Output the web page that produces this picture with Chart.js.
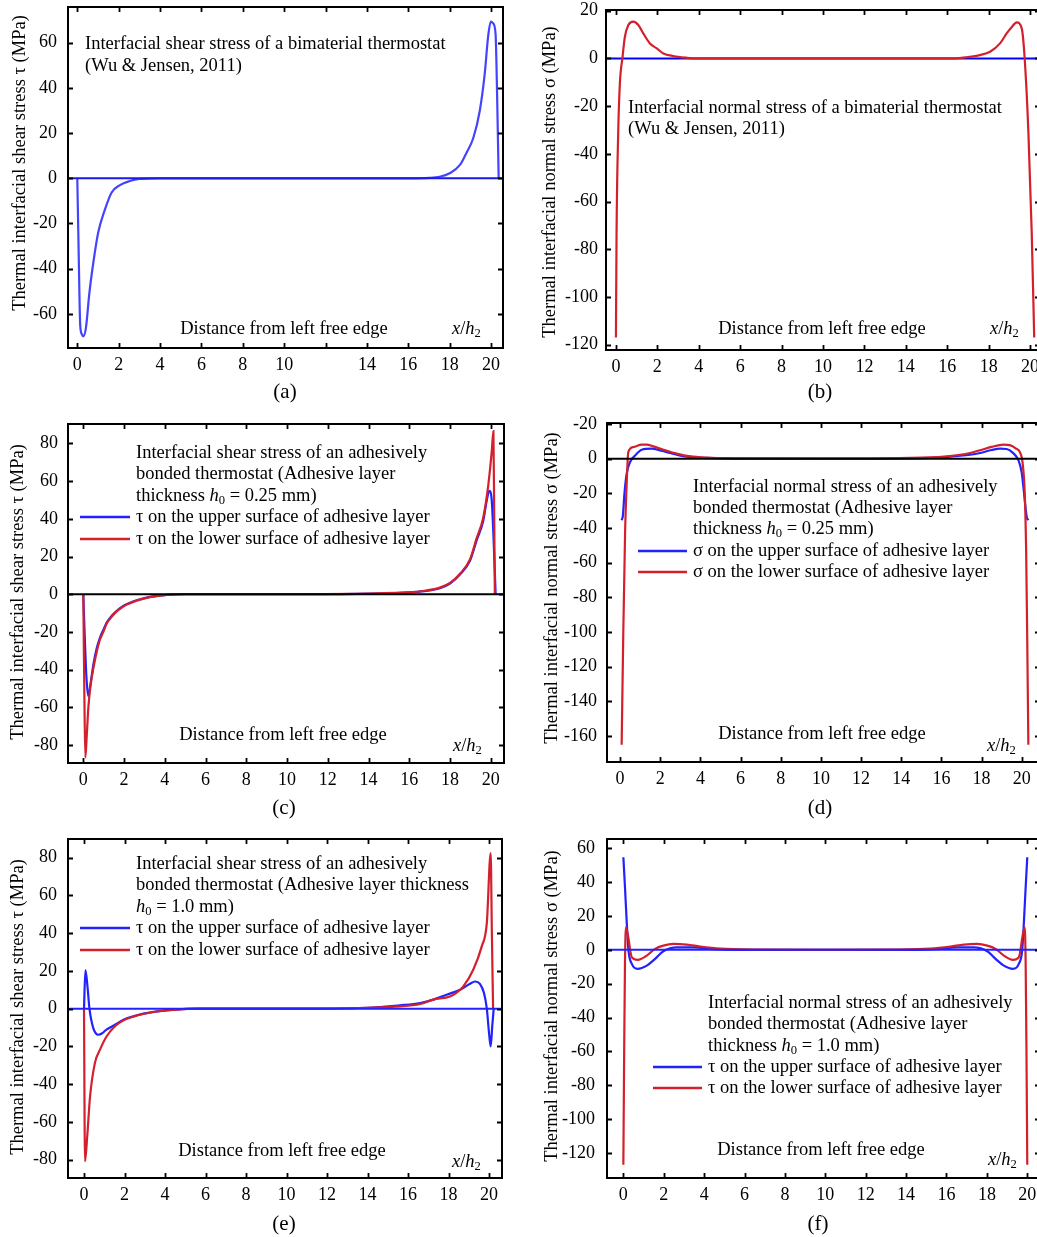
<!DOCTYPE html>
<html>
<head>
<meta charset="utf-8">
<script src="https://cdn.jsdelivr.net/npm/chart.js@4.4.1/dist/chart.umd.min.js"></script>
<style>
  html, body { margin: 0; padding: 0; background: #fff; overflow: hidden; width: 1037px; height: 1237px; position: relative; }
  canvas { position: absolute; }
</style>
</head>
<body>
<canvas id="chart-a"></canvas>
<canvas id="chart-b"></canvas>
<canvas id="chart-c"></canvas>
<canvas id="chart-d"></canvas>
<canvas id="chart-e"></canvas>
<canvas id="chart-f"></canvas>
<script>
// ---- tick values / labels ----
const xTicks = [0, 2, 4, 6, 8, 10, 12, 14, 16, 18, 20];
const xTickLabels = ["0", "2", "4", "6", "8", "10", "12", "14", "16", "18", "20"];
const aXTickLabels = ["0", "2", "4", "6", "8", "10", "", "14", "16", "18", "20"];
const aYTicks = [-60, -40, -20, 0, 20, 40, 60];
const bYTicks = [-120, -100, -80, -60, -40, -20, 0, 20];
const cYTicks = [-80, -60, -40, -20, 0, 20, 40, 60, 80];
const dYTicks = [-160, -140, -120, -100, -80, -60, -40, -20, 0, 20];
const dYTickLabels = ["-160", "-140", "-120", "-100", "-80", "-60", "-40", "-20", "0", "-20"];
const eYTicks = [-80, -60, -40, -20, 0, 20, 40, 60, 80];
const fYTicks = [-120, -100, -80, -60, -40, -20, 0, 20, 40, 60];

// ---- (a) shear stress, bimaterial thermostat ----
const aX = [0, 0.07, 0.14, 0.22, 0.29, 0.42, 0.58, 0.77, 1.01, 1.33, 1.66, 2.06, 2.54, 3.0, 4, 10, 16, 17, 17.52, 18.0, 18.5, 18.8, 19.14, 19.46, 19.7, 19.86, 19.99, 20.1, 20.22, 20.3, 20.37];
const aTau = [0, -35, -65, -69, -70, -66, -51, -37.6, -24, -14, -6.3, -3, -1.2, -0.3, 0, 0, 0, 0.2, 0.7, 2.2, 5.9, 11, 17.7, 30, 46.5, 62.7, 69.3, 68.6, 64, 34.7, 0];

// ---- (b) normal stress, bimaterial thermostat ----
const bX = [0, 0.03, 0.11, 0.19, 0.32, 0.43, 0.6, 0.84, 1.08, 1.32, 1.64, 1.97, 2.29, 2.77, 3.4, 3.9, 10, 16.3, 16.94, 17.58, 18.07, 18.55, 18.87, 19.1, 19.36, 19.6, 19.74, 19.92, 20.08, 20.2];
const bSigma = [-117, -73, -31, -10.5, 0.7, 9, 14, 15.4, 14, 10.5, 6.3, 4.2, 2.1, 1, 0.3, 0, 0, 0, 0.5, 1.4, 2.8, 6.3, 10.5, 13, 15.1, 12.5, 0, -31, -73, -117];

// ---- (c) shear stress, h0 = 0.25 mm ----
const cUpperX = [0, 0.08, 0.16, 0.25, 0.35, 0.5, 0.65, 0.82, 1.0, 1.15, 1.35, 1.55, 1.96, 2.3, 2.62, 3.27, 4.1, 5, 10, 15.87, 16.85, 17.5, 18.0, 18.5, 18.98, 19.3, 19.63, 19.8, 19.93, 20.05, 20.13, 20.24];
const cUpperTau = [0, -25, -45, -54, -48, -37, -29, -23, -18.5, -15, -12, -9.7, -6.2, -4.5, -3.2, -1.4, -0.3, 0, 0, 0.9, 1.8, 3.2, 5.7, 10.6, 17.7, 28.3, 38.9, 49.5, 54.8, 49.5, 31.8, 0];
const cLowerX = [0, 0.05, 0.1, 0.17, 0.25, 0.35, 0.5, 0.65, 0.82, 1.0, 1.15, 1.35, 1.55, 1.96, 2.3, 2.62, 3.27, 4.1, 5, 10, 15.87, 16.85, 17.5, 18.0, 18.5, 18.98, 19.3, 19.63, 19.88, 20.05, 20.13, 20.17, 20.2];
const cLowerTau = [0, -50, -86.6, -75, -60, -49, -39, -31, -24, -19.5, -15.5, -12.5, -10, -6.5, -4.7, -3.4, -1.5, -0.3, 0, 0, 1, 2, 3.5, 6, 11, 18.5, 29.5, 40.6, 58, 76, 86.6, 40, 0];

// ---- (d) normal stress, h0 = 0.25 mm ----
const dUpperX = [0.08, 0.14, 0.22, 0.33, 0.5, 0.75, 1.08, 1.58, 2.0, 2.5, 3.15, 4.0, 5.3, 6.6, 10, 15.5, 16.93, 17.43, 17.93, 18.5, 18.92, 19.25, 19.55, 19.84, 20.0, 20.08, 20.25, 20.33];
const dUpperSigma = [-35.5, -33, -20, -8.6, -1.9, 1.9, 5.2, 5.8, 4.8, 3.3, 1.5, 0.6, 0.2, 0, 0, 0.5, 1.7, 2.3, 3.3, 5, 5.8, 5.6, 3.5, -1, -8, -16, -33.6, -35.5];
const dLowerX = [0.08, 0.16, 0.25, 0.33, 0.41, 0.66, 1.08, 1.33, 1.66, 2.16, 2.82, 3.5, 4.3, 5.8, 10, 15.5, 16.93, 17.43, 17.93, 18.5, 19.09, 19.4, 19.7, 19.92, 20.05, 20.15, 20.22, 20.28, 20.33];
const dLowerSigma = [-165, -101, -43, -14.4, 3.8, 6.7, 8.1, 8.1, 7.1, 5.2, 2.9, 1.3, 0.6, 0.2, 0, 0.8, 2.3, 3.3, 4.9, 6.8, 8.1, 7.8, 6, 3.5, -3, -20, -53, -110, -165];

// ---- (e) shear stress, h0 = 1.0 mm ----
const eUpperX = [0, 0.07, 0.17, 0.27, 0.45, 0.71, 0.9, 1.11, 1.53, 1.95, 2.44, 2.93, 3.6, 4.4, 5.7, 10, 14, 15.6, 16.6, 17.25, 17.9, 18.57, 19.06, 19.31, 19.55, 19.75, 19.89, 20.0, 20.08, 20.16, 20.23];
const eUpperTau = [0, 20.5, 12, 0, -10, -13.8, -13, -11.1, -8.5, -5.8, -4, -2.6, -1.4, -0.5, 0, 0, 0.5, 1.8, 3, 4.8, 7.4, 10, 13.2, 14.4, 13.2, 8.3, 0, -12.9, -20, -9, 0];
const eLowerX = [0, 0.05, 0.16, 0.3, 0.54, 0.79, 1.12, 1.53, 1.95, 2.44, 2.93, 3.6, 4.4, 5.7, 10, 14, 15.6, 16.6, 17.25, 18.07, 18.4, 18.73, 19.22, 19.64, 19.89, 20.08, 20.14, 20.2];
const eLowerTau = [0, -80.8, -67.5, -46.4, -28.7, -21.7, -14.6, -9.3, -6.2, -4.2, -2.8, -1.5, -0.6, 0, 0, 0.5, 1.2, 2.5, 4.8, 6.5, 8.5, 11.8, 20.6, 33, 45.3, 82.4, 40, 0];

// ---- (f) normal stress, h0 = 1.0 mm ----
const fUpperX = [0, 0.08, 0.16, 0.25, 0.42, 0.71, 1.16, 1.57, 1.98, 2.64, 3.47, 4.46, 5.6, 10, 14.4, 15.54, 16.53, 17.36, 18.02, 18.43, 18.84, 19.29, 19.58, 19.75, 19.84, 19.92, 20];
const fUpperSigma = [54.7, 37, 18, 0, -8.3, -11.2, -9.3, -5.3, -0.8, 1.5, 1.5, 0.4, 0, 0, 0, 0.4, 1.5, 1.5, -0.8, -5.3, -9.3, -11.2, -8.3, 0, 18, 37, 54.7];
const fLowerX = [0, 0.04, 0.08, 0.13, 0.42, 0.71, 1.16, 1.57, 1.98, 2.48, 3.14, 3.8, 4.8, 6.4, 10, 13.6, 15.2, 16.2, 16.86, 17.52, 18.02, 18.43, 18.84, 19.29, 19.58, 19.87, 19.92, 19.96, 20];
const fLowerSigma = [-127, -60, -8, 13.3, -4.4, -5.9, -3.4, 0.6, 2.5, 3.5, 3.1, 2, 0.8, 0.2, 0, 0.2, 0.8, 2, 3.1, 3.5, 2.5, 0.6, -3.4, -5.9, -4.4, 13.3, -8, -60, -127];

// ---- styling ----
const SERIF = '"Liberation Serif", "Times New Roman", serif';
const BLUE = "#2222ff";
const BLUE_A = "#4444ff";
const BLUE_ZERO = "#1a1ae8";
const RED = "#d4202c";
const TICK_LEN = 5;

const SHEAR_TITLE = "Thermal interfacial shear stress \u03c4 (MPa)";
const NORMAL_TITLE = "Thermal interfacial normal stress \u03c3 (MPa)";
const DIST = [["Distance from left free edge", ""]];
const XH = [["x", "i"], ["/", ""], ["h", "i"], ["2", "sub"]];

function pts(xs, ys) {
  return xs.map((x, i) => ({ x, y: ys[i] }));
}

// draws text made of [string, style] parts; style "" | "i" | "sub"
function richText(ctx, parts, x, y, size) {
  let cx = x;
  for (const [t, st] of parts) {
    let fs = size, dy = 0, italic = "";
    if (st === "i") italic = "italic ";
    if (st === "sub") { fs = size * 0.68; dy = size * 0.25; }
    ctx.font = italic + fs + "px " + SERIF;
    ctx.fillText(t, cx, y + dy);
    cx += ctx.measureText(t).width;
  }
  return cx - x;
}
function richWidth(ctx, parts, size) {
  let w = 0;
  for (const [t, st] of parts) {
    const fs = st === "sub" ? size * 0.68 : size;
    ctx.font = (st === "i" ? "italic " : "") + fs + "px " + SERIF;
    w += ctx.measureText(t).width;
  }
  return w;
}

const decor = {
  id: "decor",
  afterDraw(chart, args, o) {
    const ctx = chart.ctx, a = chart.chartArea;
    const ox = o.origin[0], oy = o.origin[1];
    const xs = chart.scales.x, ys = chart.scales.y;
    ctx.save();
    ctx.strokeStyle = "#000";
    ctx.lineWidth = 2;
    ctx.strokeRect(a.left, a.top, a.right - a.left, a.bottom - a.top);
    ctx.lineWidth = 1.8;
    ctx.beginPath();
    xs.ticks.forEach(t => {
      const p = Math.round(xs.getPixelForValue(t.value)) + 0.5;
      ctx.moveTo(p, a.bottom); ctx.lineTo(p, a.bottom - TICK_LEN);
      ctx.moveTo(p, a.top); ctx.lineTo(p, a.top + TICK_LEN);
    });
    ys.ticks.forEach(t => {
      const p = Math.round(ys.getPixelForValue(t.value)) + 0.5;
      ctx.moveTo(a.left, p); ctx.lineTo(a.left + TICK_LEN, p);
      ctx.moveTo(a.right, p); ctx.lineTo(a.right - TICK_LEN, p);
    });
    ctx.stroke();

    ctx.fillStyle = "#000";
    ctx.textBaseline = "middle";
    ctx.textAlign = "left";
    // annotation block
    o.lines.forEach((ln, i) => richText(ctx, ln, o.textAt[0] - ox, o.lineYs[i] - oy, 18.5));
    // legend samples
    (o.legend || []).forEach(lg => {
      ctx.strokeStyle = lg.color;
      ctx.lineWidth = 2.5;
      ctx.beginPath();
      ctx.moveTo(o.sample[0] - ox, lg.y - oy);
      ctx.lineTo(o.sample[1] - ox, lg.y - oy);
      ctx.stroke();
      richText(ctx, lg.text, o.textAt[0] - ox, lg.y - oy, 18.5);
    });
    // in-plot axis notes
    const dw = richWidth(ctx, DIST, 18.5);
    richText(ctx, DIST, o.distAt[0] - ox - dw / 2, o.distAt[1] - oy, 18.5);
    richText(ctx, XH, o.xhAt[0] - ox, o.xhAt[1] - oy, 18.5);
    // y title
    ctx.save();
    ctx.translate(o.titleAt[0] - ox, o.titleAt[1] - oy);
    ctx.rotate(-Math.PI / 2);
    ctx.textAlign = "center";
    ctx.font = "18.5px " + SERIF;
    ctx.fillText(o.title, 0, 0);
    ctx.restore();
    // caption
    ctx.textAlign = "center";
    ctx.font = "21px " + SERIF;
    ctx.fillText(o.caption, o.captionAt[0] - ox, o.captionAt[1] - oy);
    ctx.restore();
  }
};

function lineSet(data, color, width) {
  return {
    data, borderColor: color, borderWidth: width || 2.2, pointRadius: 0,
    fill: false, cubicInterpolationMode: "monotone", parsing: false
  };
}

function makePanel(p) {
  const cv = document.getElementById(p.id);
  cv.width = p.size[0];
  cv.height = p.size[1];
  cv.style.left = p.origin[0] + "px";
  cv.style.top = p.origin[1] + "px";
  const [bl, bt, br, bb] = p.box;
  p.decor.origin = p.origin;
  const zero = lineSet([{ x: p.xRange[0], y: 0 }, { x: p.xRange[1], y: 0 }], p.zeroColor, 2);
  const curves = p.series.map(s => lineSet(pts(s.x, s.y), s.color));
  const datasets = p.zeroOnTop ? [zero, ...curves] : [...curves, zero];
  new Chart(cv, {
    type: "line",
    data: { datasets },
    plugins: [decor],
    options: {
      responsive: false,
      animation: false,
      devicePixelRatio: 1,
      layout: { padding: { left: 0, top: bt - p.origin[1], right: p.origin[0] + p.size[0] - br, bottom: 0 } },
      plugins: {
        legend: { display: false },
        tooltip: { enabled: false },
        decor: p.decor
      },
      scales: {
        x: {
          type: "linear", min: p.xRange[0], max: p.xRange[1],
          grid: { display: false }, border: { display: false },
          afterBuildTicks: s => { s.ticks = xTicks.map(v => ({ value: v })); },
          afterFit: s => { s.height = p.origin[1] + p.size[1] - bb; },
          ticks: {
            autoSkip: false, maxRotation: 0, padding: -2, color: "#000",
            font: { family: SERIF, size: 18 },
            callback: (v, i) => p.xLabels[i]
          }
        },
        y: {
          type: "linear", min: p.yRange[0], max: p.yRange[1],
          grid: { display: false }, border: { display: false },
          afterBuildTicks: s => { s.ticks = p.yTicks.map(v => ({ value: v })); },
          afterFit: s => { s.width = bl - p.origin[0]; },
          ticks: {
            autoSkip: false, padding: p.yPad, color: "#000",
            font: { family: SERIF, size: 18 },
            callback: (v, i) => p.yLabels[i]
          }
        }
      }
    }
  });
}

const panels = [
  {
    id: "chart-a", origin: [0, -30], size: [520, 435], box: [68, 7, 503, 348],
    xRange: [-0.45, 20.58], yRange: [-75.1, 75.8], xLabels: aXTickLabels,
    yTicks: aYTicks, yLabels: aYTicks.map(String), yPad: 3,
    zeroColor: BLUE_ZERO, zeroOnTop: true,
    series: [{ x: aX, y: aTau, color: BLUE_A }],
    decor: {
      title: SHEAR_TITLE, titleAt: [20, 163], caption: "(a)", captionAt: [285, 392],
      textAt: [85], lineYs: [44, 66],
      lines: [[["Interfacial shear stress of a bimaterial thermostat", ""]], [["(Wu & Jensen, 2011)", ""]]],
      distAt: [284, 329], xhAt: [452, 329]
    }
  },
  {
    id: "chart-b", origin: [520, -30], size: [525, 435], box: [606, 10, 1040, 350],
    xRange: [-0.48, 20.48], yRange: [-122.2, 20.3], xLabels: xTickLabels,
    yTicks: bYTicks, yLabels: bYTicks.map(String), yPad: 0,
    zeroColor: "#0000ff", zeroOnTop: false,
    series: [{ x: bX, y: bSigma, color: RED }],
    decor: {
      title: NORMAL_TITLE, titleAt: [550, 182], caption: "(b)", captionAt: [820, 392],
      textAt: [628], lineYs: [108, 129],
      lines: [[["Interfacial normal stress of a bimaterial thermostat", ""]], [["(Wu & Jensen, 2011)", ""]]],
      distAt: [822, 329], xhAt: [990, 329]
    }
  },
  {
    id: "chart-c", origin: [0, 405], size: [520, 415], box: [68, 424, 504, 763],
    xRange: [-0.75, 20.65], yRange: [-89.5, 90.3], xLabels: xTickLabels,
    yTicks: cYTicks, yLabels: cYTicks.map(String), yPad: 2,
    zeroColor: "#000", zeroOnTop: true,
    series: [{ x: cLowerX, y: cLowerTau, color: RED }, { x: cUpperX, y: cUpperTau, color: BLUE }],
    decor: {
      title: SHEAR_TITLE, titleAt: [18, 592], caption: "(c)", captionAt: [284, 808],
      textAt: [136], lineYs: [453, 474, 496],
      lines: [
        [["Interfacial shear stress of an adhesively", ""]],
        [["bonded thermostat (Adhesive layer", ""]],
        [["thickness ", ""], ["h", "i"], ["0", "sub"], [" = 0.25 mm)", ""]]
      ],
      sample: [80, 130],
      legend: [
        { color: BLUE, y: 517, text: [["\u03c4 on the upper surface of adhesive layer", ""]] },
        { color: RED, y: 539, text: [["\u03c4 on the lower surface of adhesive layer", ""]] }
      ],
      distAt: [283, 735], xhAt: [453, 746]
    }
  },
  {
    id: "chart-d", origin: [520, 405], size: [525, 415], box: [607, 423, 1040, 762],
    xRange: [-0.65, 20.91], yRange: [-175, 20.6], xLabels: xTickLabels,
    yTicks: dYTicks, yLabels: dYTickLabels, yPad: 2,
    zeroColor: "#000", zeroOnTop: true,
    series: [{ x: dLowerX, y: dLowerSigma, color: RED }, { x: dUpperX, y: dUpperSigma, color: BLUE }],
    decor: {
      title: NORMAL_TITLE, titleAt: [552, 588], caption: "(d)", captionAt: [820, 808],
      textAt: [693], lineYs: [487, 508, 529],
      lines: [
        [["Interfacial normal stress of an adhesively", ""]],
        [["bonded thermostat (Adhesive layer", ""]],
        [["thickness ", ""], ["h", "i"], ["0", "sub"], [" = 0.25 mm)", ""]]
      ],
      sample: [638, 687],
      legend: [
        { color: BLUE, y: 551, text: [["\u03c3 on the upper surface of adhesive layer", ""]] },
        { color: RED, y: 572, text: [["\u03c3 on the lower surface of adhesive layer", ""]] }
      ],
      distAt: [822, 734], xhAt: [987, 746]
    }
  },
  {
    id: "chart-e", origin: [0, 820], size: [520, 417], box: [68, 839, 502, 1178],
    xRange: [-0.79, 20.64], yRange: [-89.7, 89.9], xLabels: xTickLabels,
    yTicks: eYTicks, yLabels: eYTicks.map(String), yPad: 3,
    zeroColor: BLUE, zeroOnTop: true,
    series: [{ x: eLowerX, y: eLowerTau, color: RED }, { x: eUpperX, y: eUpperTau, color: BLUE }],
    decor: {
      title: SHEAR_TITLE, titleAt: [18, 1007], caption: "(e)", captionAt: [284, 1224],
      textAt: [136], lineYs: [864, 885, 907],
      lines: [
        [["Interfacial shear stress of an adhesively", ""]],
        [["bonded thermostat (Adhesive layer thickness", ""]],
        [["h", "i"], ["0", "sub"], [" = 1.0 mm)", ""]]
      ],
      sample: [80, 130],
      legend: [
        { color: BLUE, y: 928, text: [["\u03c4 on the upper surface of adhesive layer", ""]] },
        { color: RED, y: 950, text: [["\u03c4 on the lower surface of adhesive layer", ""]] }
      ],
      distAt: [282, 1151], xhAt: [452, 1162]
    }
  },
  {
    id: "chart-f", origin: [520, 820], size: [525, 417], box: [607, 839, 1040, 1178],
    xRange: [-0.81, 20.63], yRange: [-134.8, 65.5], xLabels: xTickLabels,
    yTicks: fYTicks, yLabels: fYTicks.map(String), yPad: 4,
    zeroColor: BLUE, zeroOnTop: true,
    series: [{ x: fLowerX, y: fLowerSigma, color: RED }, { x: fUpperX, y: fUpperSigma, color: BLUE }],
    decor: {
      title: NORMAL_TITLE, titleAt: [552, 1006], caption: "(f)", captionAt: [818, 1224],
      textAt: [708], lineYs: [1003, 1024, 1046],
      lines: [
        [["Interfacial normal stress of an adhesively", ""]],
        [["bonded thermostat (Adhesive layer", ""]],
        [["thickness ", ""], ["h", "i"], ["0", "sub"], [" = 1.0 mm)", ""]]
      ],
      sample: [653, 702],
      legend: [
        { color: BLUE, y: 1067, text: [["\u03c4 on the upper surface of adhesive layer", ""]] },
        { color: RED, y: 1088, text: [["\u03c4 on the lower surface of adhesive layer", ""]] }
      ],
      distAt: [821, 1150], xhAt: [988, 1160]
    }
  }
];

panels.forEach(makePanel);
</script>
</body>
</html>
